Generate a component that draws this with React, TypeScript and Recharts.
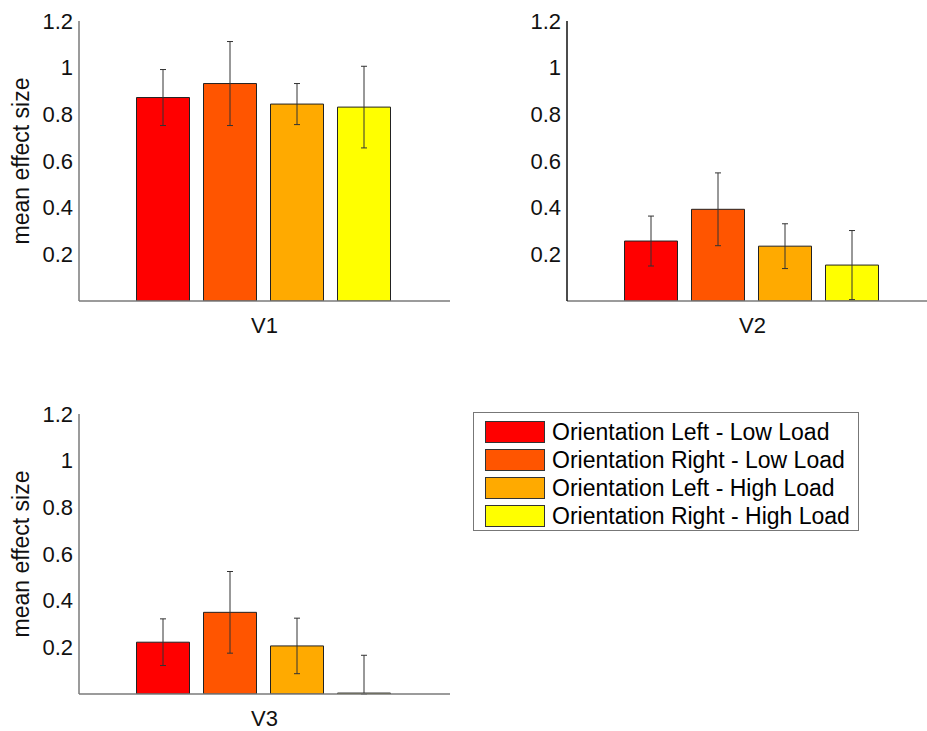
import { BarChart, Bar, XAxis, YAxis, ErrorBar, Legend } from 'recharts';

// conditions, in plotting order
const seriesNames = [
  'Orientation Left - Low Load',
  'Orientation Right - Low Load',
  'Orientation Left - High Load',
  'Orientation Right - High Load',
];
const seriesColors = ['#ff0000', '#ff5500', '#ffaa00', '#ffff00'];

// mean effect size and error per visual area
const v1Means = [0.872, 0.932, 0.844, 0.831];
const v1Errors = [0.12, 0.18, 0.088, 0.175];
const v2Means = [0.257, 0.393, 0.235, 0.154];
const v2Errors = [0.107, 0.156, 0.096, 0.148];
const v3Means = [0.222, 0.35, 0.206, 0.004];
const v3Errors = [0.1, 0.175, 0.119, 0.162];

const yTicks = [0.2, 0.4, 0.6, 0.8, 1, 1.2];

const FONT = '"Liberation Sans", Arial, sans-serif';

// error bars stop at the x axis (axis starts at 0), so the lower arm is cut at 0
const makeRow = (name: string, means: number[], errors: number[]) => {
  const row: any = { name };
  means.forEach((m, i) => {
    row['s' + i] = m;
    row['e' + i] = [Math.min(errors[i], m), errors[i]];
  });
  return [row];
};

const YLabel = ({ viewBox }: any) => {
  const cy = viewBox.y + viewBox.height / 2;
  return (
    <text
      x={21}
      y={cy}
      transform={`rotate(-90, 21, ${cy})`}
      textAnchor="middle"
      dominantBaseline="central"
      fontSize={23}
      fontFamily={FONT}
      fill="#111"
    >
      mean effect size
    </text>
  );
};

const LegendBox = ({ payload }: any) => {
  const items = [...(payload || [])].sort(
    (a: any, b: any) => seriesNames.indexOf(a.value) - seriesNames.indexOf(b.value)
  );
  return (
    <div
      style={{
        boxSizing: 'border-box',
        width: 386,
        height: 119,
        border: '1px solid #777',
        background: '#fff',
        padding: '5px 0 0 11px',
        fontFamily: FONT,
        fontSize: 23,
        color: '#000',
      }}
    >
      {items.map((p: any) => (
        <div key={p.value} style={{ display: 'flex', alignItems: 'center', height: 28 }}>
          <div
            style={{
              boxSizing: 'border-box',
              width: 60,
              height: 22,
              background: p.color,
              border: '1px solid #333',
              marginRight: 7,
            }}
          />
          <span style={{ whiteSpace: 'nowrap' }}>{p.value}</span>
        </div>
      ))}
    </div>
  );
};

type PanelProps = {
  left: number;
  top: number;
  width: number;
  height: number;
  rightMargin: number;
  data: any[];
  yAxisColor: string;
  showYLabel: boolean;
  showLegend?: boolean;
};

const Panel = ({ left, top, width, height, rightMargin, data, yAxisColor, showYLabel, showLegend }: PanelProps) => (
  <div style={{ position: 'absolute', left, top }}>
    <BarChart
      width={width}
      height={height}
      data={data}
      margin={{ top: 21, right: rightMargin, left: 0, bottom: height - 331 }}
      barCategoryGap="15.5%"
      barGap={14}
    >
      <XAxis
        dataKey="name"
        tickLine={false}
        axisLine={{ stroke: '#7a7a7a', strokeWidth: 1.5 }}
        tick={{ fontSize: 22, fontFamily: FONT, fill: '#111' }}
        tickMargin={10}
        height={30}
      />
      <YAxis
        type="number"
        domain={[0, 1.2]}
        allowDataOverflow
        ticks={yTicks}
        tickFormatter={(v: number) => String(v)}
        tickLine={false}
        axisLine={{ stroke: yAxisColor, strokeWidth: 1.5 }}
        tick={{ fontSize: 22, fontFamily: FONT, fill: '#111' }}
        tickMargin={0}
        width={79}
        label={showYLabel ? <YLabel /> : undefined}
      />
      {seriesNames.map((s, i) => (
        <Bar
          key={s}
          dataKey={'s' + i}
          name={s}
          fill={seriesColors[i]}
          stroke="#222"
          strokeWidth={1}
          isAnimationActive={false}
        >
          <ErrorBar dataKey={'e' + i} width={3} stroke="#333" strokeWidth={1} />
        </Bar>
      ))}
      {showLegend && (
        <Legend
          layout="horizontal"
          verticalAlign="middle"
          align="center"
          wrapperStyle={{ left: 473, top: 19, width: 386, height: 119 }}
          content={<LegendBox />}
        />
      )}
    </BarChart>
  </div>
);

export default function App() {
  return (
    <div
      style={{
        position: 'absolute',
        left: 0,
        top: 0,
        width: 927,
        height: 731,
        overflow: 'hidden',
        background: '#fff',
      }}
    >
      <Panel left={0} top={0} width={460} height={360} rightMargin={10} data={makeRow('V1', v1Means, v1Errors)} yAxisColor="#7a7a7a" showYLabel />
      <Panel left={488} top={0} width={460} height={360} rightMargin={10} data={makeRow('V2', v2Means, v2Errors)} yAxisColor="#111" showYLabel={false} />
      <Panel
        left={0}
        top={393}
        width={927}
        height={338}
        rightMargin={477}
        data={makeRow('V3', v3Means, v3Errors)}
        yAxisColor="#7a7a7a"
        showYLabel
        showLegend
      />
    </div>
  );
}
